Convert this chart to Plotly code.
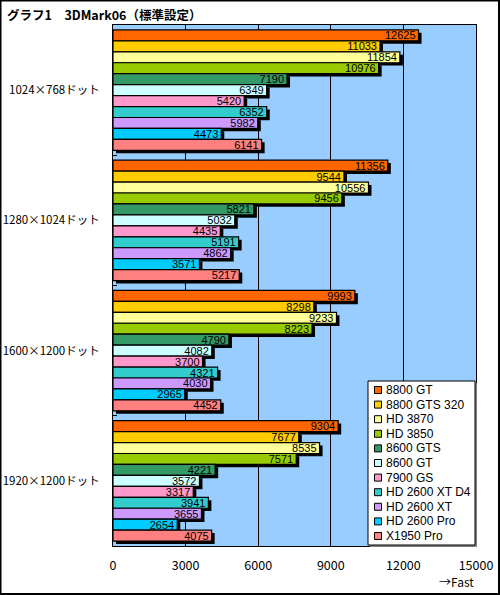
import plotly.graph_objects as go

# data
resolutions = ["1024×768ドット", "1280×1024ドット", "1600×1200ドット", "1920×1200ドット"]
cards = ["8800 GT", "8800 GTS 320", "HD 3870", "HD 3850", "8600 GTS", "8600 GT",
         "7900 GS", "HD 2600 XT D4", "HD 2600 XT", "HD 2600 Pro", "X1950 Pro"]
scores = [
    [12625, 11356, 9993, 9304],
    [11033, 9544, 8298, 7677],
    [11854, 10556, 9233, 8535],
    [10976, 9456, 8223, 7571],
    [7190, 5821, 4790, 4221],
    [6349, 5032, 4082, 3572],
    [5420, 4435, 3700, 3317],
    [6352, 5191, 4321, 3941],
    [5982, 4862, 4030, 3655],
    [4473, 3571, 2965, 2654],
    [6141, 5217, 4452, 4075],
]
colors = ["#FF6600", "#FFCC00", "#FFFF99", "#99CC00", "#339966", "#CCFFFF",
          "#FF99CC", "#33CCCC", "#CC99FF", "#00CCFF", "#FF8080"]
x_ticks = [0, 3000, 6000, 9000, 12000, 15000]

font = "Noto Sans CJK JP"
latin = "Liberation Sans"
W, H = 500, 595
ml, mr, mt, mb = 113, 24, 25, 49
pw, ph = W - ml - mr, H - mt - mb


def px(x):  # pixel -> paper x
    return (x - ml) / pw


def py(y):  # pixel (from top) -> paper y
    return 1 - (y - mt) / ph


n = len(cards)
group = 0.925
pitch = group / n
sh_dx = 125      # shadow shift in x units (~3px)
sh_dy = 0.022    # shadow shift in category units (~3px)

fig = go.Figure()

# black drop shadows first
for i in range(n):
    fig.add_trace(go.Bar(
        y=resolutions, x=scores[i], orientation="h",
        base=sh_dx, offset=-group / 2 + i * pitch + sh_dy, width=pitch,
        marker=dict(color="black", line=dict(width=0)),
        showlegend=False, hoverinfo="skip",
    ))

for i in range(n):
    fig.add_trace(go.Bar(
        y=resolutions, x=scores[i], orientation="h", name=cards[i],
        offset=-group / 2 + i * pitch, width=pitch,
        marker=dict(color=colors[i], line=dict(color="black", width=1.2)),
        text=[str(v) for v in scores[i]], textposition="inside",
        insidetextanchor="end", textangle=0,
        textfont=dict(family=latin, size=11, color="black"),
        showlegend=False,
    ))

fig.update_layout(
    width=W, height=H,
    margin=dict(l=ml, r=mr, t=mt, b=mb, autoexpand=False),
    barmode="overlay",
    paper_bgcolor="white",
    plot_bgcolor="#99CCFF",
    font=dict(family=font, size=12, color="black"),
    uniformtext=dict(minsize=11, mode="show"),
    xaxis=dict(range=[0, 15000], tickvals=x_ticks, ticktext=[str(v) for v in x_ticks],
               showgrid=True, gridcolor="black", gridwidth=1,
               showline=True, linecolor="black", linewidth=1, mirror=True,
               ticks="", zeroline=False, tickfont=dict(size=12.5),
               ticklabelstandoff=8, automargin=False),
    yaxis=dict(type="category", autorange="reversed", showgrid=False,
               showline=True, linecolor="black", linewidth=1, mirror=True,
               ticks="inside", ticklen=4, tickcolor="black", tickson="boundaries",
               tickfont=dict(size=11.5), ticklabelstandoff=10, automargin=False),
    showlegend=False,
)

shapes = []
annotations = []

# legend box drawn by hand (plotly's own legend rows are too tall)
lx0, lx1, ly0, ly1 = 368, 475, 381, 545
shapes.append(dict(type="rect", xref="paper", yref="paper",
                   x0=px(lx0 + 2), x1=px(lx1 + 2), y0=py(ly1 + 2), y1=py(ly0 + 2),
                   fillcolor="#808080", line=dict(width=0), layer="above"))
shapes.append(dict(type="rect", xref="paper", yref="paper",
                   x0=px(lx0), x1=px(lx1), y0=py(ly1), y1=py(ly0),
                   fillcolor="white", line=dict(color="black", width=1), layer="above"))
row0, row_step = 390, 14.6
for i, (name, c) in enumerate(zip(cards, colors)):
    yc = row0 + i * row_step
    shapes.append(dict(type="rect", xref="paper", yref="paper",
                       x0=px(374.5), x1=px(381.5), y0=py(yc + 3.5), y1=py(yc - 3.5),
                       fillcolor=c, line=dict(color="black", width=1), layer="above"))
    annotations.append(dict(text=name, xref="paper", yref="paper", x=px(384), y=py(yc),
                            xanchor="left", yanchor="middle", showarrow=False,
                            font=dict(size=12, family=latin)))

annotations.append(dict(text="<b>グラフ1　3DMark06（標準設定）</b>", xref="paper", yref="paper",
                        x=px(5), y=py(14), xanchor="left", yanchor="middle", showarrow=False,
                        font=dict(size=12.5, family=font, color="black")))
annotations.append(dict(text="→Fast", xref="paper", yref="paper", x=px(476), y=py(581),
                        xanchor="right", yanchor="middle", showarrow=False,
                        font=dict(size=12, family=font)))

# outer frame of the whole picture
shapes.append(dict(type="rect", xref="paper", yref="paper",
                   x0=px(0.5), x1=px(W - 1), y0=py(H - 1), y1=py(0.5),
                   line=dict(color="black", width=2), layer="above"))

fig.update_layout(shapes=shapes, annotations=annotations)

fig.write_html("out.html", config={"displayModeBar": False},
               post_script="document.body.style.margin='0';document.body.style.overflow='hidden';")
